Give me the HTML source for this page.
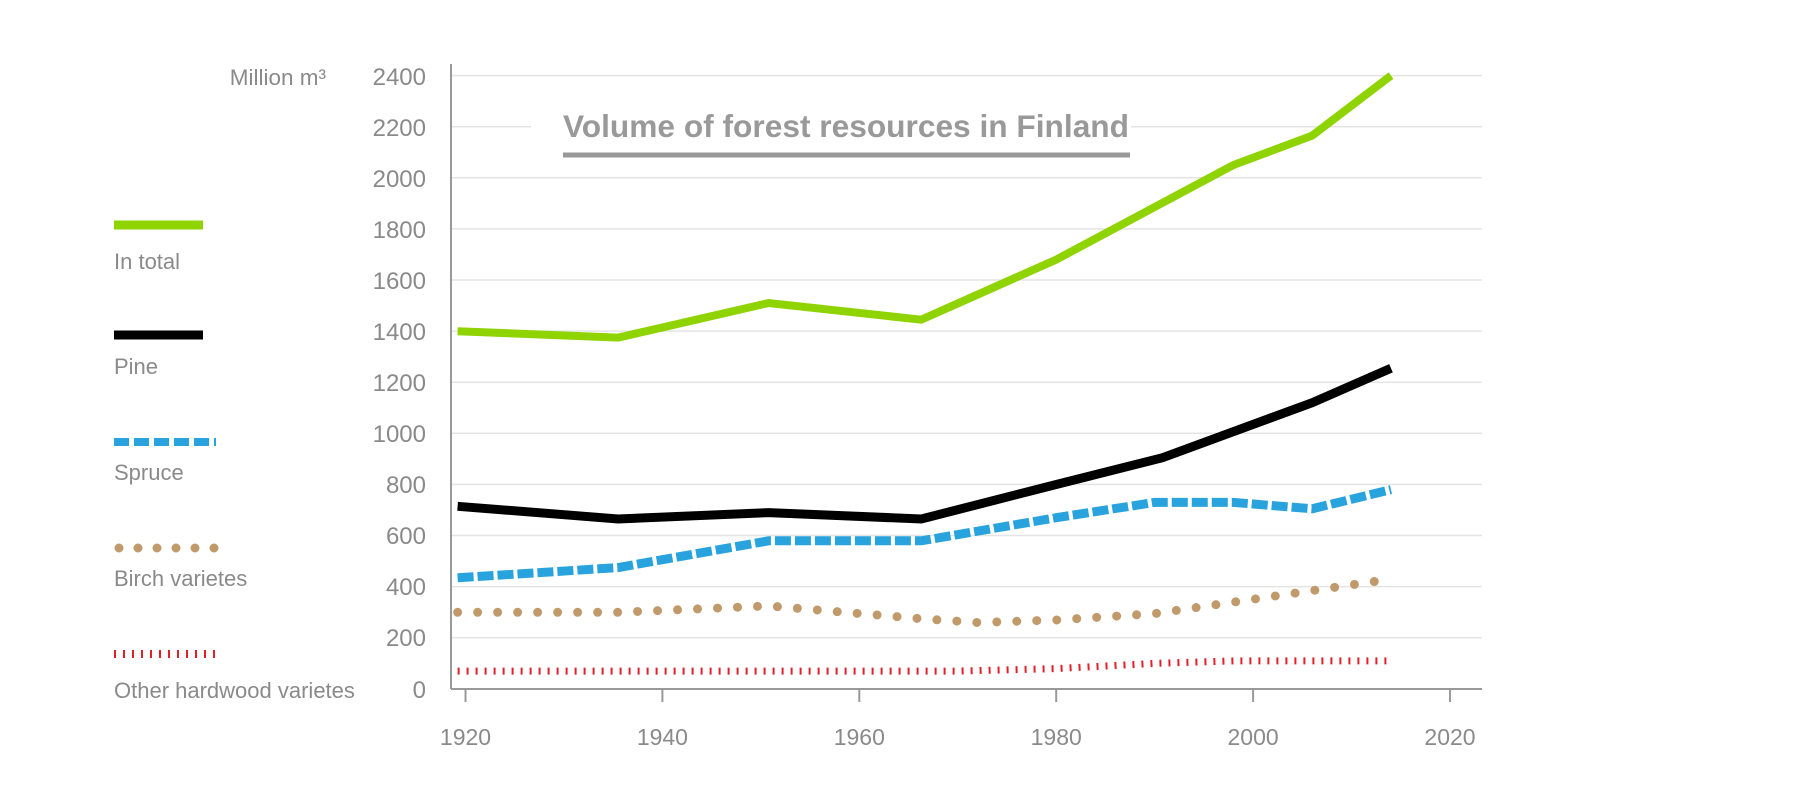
<!DOCTYPE html>
<html><head><meta charset="utf-8"><style>
html,body{margin:0;padding:0;background:#fff;}
svg{display:block;font-family:"Liberation Sans",sans-serif;}
</style></head><body>
<svg width="1820" height="800" viewBox="0 0 1820 800">
<g stroke="#e4e4e4" stroke-width="1.5">
<line x1="451" x2="1482" y1="75.6" y2="75.6"/>
<line x1="451" x2="1482" y1="126.7" y2="126.7"/>
<line x1="451" x2="1482" y1="177.8" y2="177.8"/>
<line x1="451" x2="1482" y1="228.9" y2="228.9"/>
<line x1="451" x2="1482" y1="280.0" y2="280.0"/>
<line x1="451" x2="1482" y1="331.1" y2="331.1"/>
<line x1="451" x2="1482" y1="382.2" y2="382.2"/>
<line x1="451" x2="1482" y1="433.3" y2="433.3"/>
<line x1="451" x2="1482" y1="484.4" y2="484.4"/>
<line x1="451" x2="1482" y1="535.5" y2="535.5"/>
<line x1="451" x2="1482" y1="586.6" y2="586.6"/>
<line x1="451" x2="1482" y1="637.7" y2="637.7"/>
</g>
<rect x="531" y="100" width="600" height="60" fill="#fff"/>
<g stroke="#999" stroke-width="2">
<line x1="451" x2="451" y1="64" y2="689"/>
<line x1="451" x2="1482" y1="689" y2="689"/>
<line x1="465.5" x2="465.5" y1="689" y2="702"/>
<line x1="662.4" x2="662.4" y1="689" y2="702"/>
<line x1="859.3" x2="859.3" y1="689" y2="702"/>
<line x1="1056.2" x2="1056.2" y1="689" y2="702"/>
<line x1="1253.1" x2="1253.1" y1="689" y2="702"/>
<line x1="1450" x2="1450" y1="689" y2="702"/>
</g>
<g fill="#8a8a8a" font-size="24" text-anchor="end">
<text x="426" y="85">2400</text>
<text x="426" y="136">2200</text>
<text x="426" y="187">2000</text>
<text x="426" y="238">1800</text>
<text x="426" y="289">1600</text>
<text x="426" y="340">1400</text>
<text x="426" y="391">1200</text>
<text x="426" y="442">1000</text>
<text x="426" y="493">800</text>
<text x="426" y="544">600</text>
<text x="426" y="595">400</text>
<text x="426" y="646">200</text>
<text x="426" y="698">0</text>
<text x="326" y="85" font-size="22.5">Million m³</text>
</g>
<g fill="#8a8a8a" font-size="23" text-anchor="middle">
<text x="465.5" y="745">1920</text>
<text x="662.4" y="745">1940</text>
<text x="859.3" y="745">1960</text>
<text x="1056.2" y="745">1980</text>
<text x="1253.1" y="745">2000</text>
<text x="1450" y="745">2020</text>
</g>
<text x="563" y="137" font-size="31.5" font-weight="bold" fill="#999" textLength="566" lengthAdjust="spacingAndGlyphs">Volume of forest resources in Finland</text>
<line x1="563" x2="1130" y1="155" y2="155" stroke="#999" stroke-width="5"/>
<!-- legend -->
<line x1="114" x2="203" y1="225" y2="225" stroke="#8fd400" stroke-width="9"/>
<line x1="114" x2="203" y1="335" y2="335" stroke="#000" stroke-width="9"/>
<line x1="114" x2="216" y1="442" y2="442" stroke="#29a3dd" stroke-width="8" stroke-dasharray="15 5"/>
<line x1="119" x2="225" y1="548" y2="548" stroke="#c19a6b" stroke-width="9" stroke-linecap="round" stroke-dasharray="0 19"/>
<line x1="114" x2="216" y1="654" y2="654" stroke="#e0202a" stroke-width="8" stroke-dasharray="2 7"/>
<g fill="#8a8a8a" font-size="22">
<text x="114" y="269">In total</text>
<text x="114" y="374">Pine</text>
<text x="114" y="480">Spruce</text>
<text x="114" y="586">Birch varietes</text>
<text x="114" y="698">Other hardwood varietes</text>
</g>
<!-- series -->
<polyline fill="none" stroke="#e0202a" stroke-width="7" stroke-dasharray="2 7" points="457.6,671.1 956.8,671.1 1056.2,668.6 1154.6,663.4 1233.4,660.9 1391,660.9"/>
<polyline fill="none" stroke="#c19a6b" stroke-width="9" stroke-linecap="round" stroke-dasharray="0 20" points="457.6,612.3 618.1,612.3 768.7,605.9 921.3,618.7 977.4,622.5 1056.2,620 1154.6,613.6 1233.4,602.1 1312.2,590.6 1391,579.1"/>
<polyline fill="none" stroke="#29a3dd" stroke-width="9" stroke-dasharray="16 4" points="457.6,577.8 618.1,567.6 768.7,540.8 921.3,540.8 1056.2,517.7 1154.6,502.4 1233.4,502.4 1312.2,508.8 1391,489.6"/>
<polyline fill="none" stroke="#000" stroke-width="9" points="457.6,506.3 618.1,519 768.7,512.6 921.3,519 1056.2,484.5 1162.5,457.7 1312.2,402.7 1391,368.2"/>
<polyline fill="none" stroke="#8fd400" stroke-width="8" points="457.6,331.2 618.1,337.6 768.7,303 921.3,319.7 1056.2,259.6 1233.4,165 1312.2,135.6 1391,75.6"/>
</svg>
</body></html>
